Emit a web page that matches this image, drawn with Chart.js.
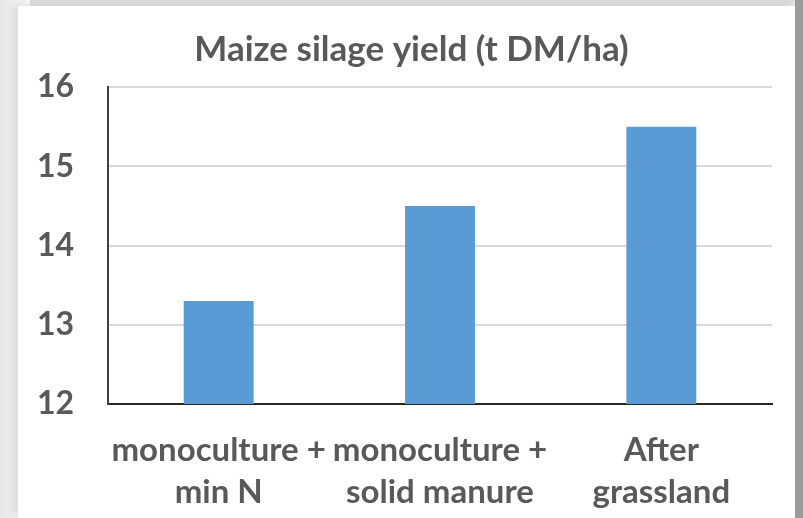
<!DOCTYPE html>
<html>
<head>
<meta charset="utf-8">
<script src="https://cdn.jsdelivr.net/npm/chart.js@4/dist/chart.umd.min.js"></script>
<style>
  html, body { margin: 0; padding: 0; width: 803px; height: 518px; overflow: hidden; background: #ffffff; }
  #topshade { position: absolute; left: 0; top: 0; width: 803px; height: 10px; background: linear-gradient(#dcdcdc, #f2f2f2); }
  #leftshade { position: absolute; left: 0; top: 0; width: 30px; height: 518px; background: linear-gradient(to right, #e6e6e6, #ffffff); }
  #card { position: absolute; left: 18px; top: 6px; width: 777px; height: 512px; background: #ffffff;
          box-shadow: -4px -2px 10px rgba(0,0,0,0.12); }
  #rightband { position: absolute; left: 795px; top: 0; width: 8px; height: 518px; background: #9b9b9b; }
</style>
</head>
<body>
<div id="topshade"></div>
<div id="leftshade"></div>
<div id="card"><canvas id="c" width="777" height="512"></canvas></div>
<div id="rightband"></div>
<script>
const titleText = 'Maize silage yield (t DM/ha)';
const categories = [
  ['monoculture +', 'min N'],
  ['monoculture +', 'solid manure'],
  ['After', 'grassland']
];
const yieldValues = [13.3, 14.5, 15.5];
const yMin = 12, yMax = 16, yStep = 1;

const textColor = '#595959';
new Chart(document.getElementById('c'), {
  type: 'bar',
  data: {
    labels: categories,
    datasets: [{
      data: yieldValues,
      backgroundColor: '#5B9BD5',
      borderWidth: 0,
      barPercentage: 0.316,
      categoryPercentage: 1.0
    }]
  },
  options: {
    responsive: false,
    animation: false,
    devicePixelRatio: 1,
    layout: { padding: { left: 33, right: 23, top: 0, bottom: 0 } },
    plugins: {
      legend: { display: false },
      tooltip: { enabled: false },
      title: {
        display: true,
        text: titleText,
        color: textColor,
        font: { family: 'Lato', weight: 'bold', size: 35, lineHeight: 1.2 },
        padding: { top: 23, bottom: 16 }
      }
    },
    scales: {
      x: {
        grid: { display: false, drawTicks: false },
        border: { display: true, color: '#262626', width: 2 },
        ticks: {
          color: textColor,
          font: { family: 'Lato', weight: 'bold', size: 33, lineHeight: 1.25 },
          padding: 26,
          maxRotation: 0,
          autoSkip: false
        },
        afterFit: (s) => { s.height = 114; }
      },
      y: {
        min: yMin, max: yMax,
        grid: { color: '#d9d9d9', lineWidth: 2, drawTicks: false },
        border: { display: true, color: '#404040', width: 2 },
        ticks: {
          stepSize: yStep,
          color: textColor,
          font: { family: 'Lato', weight: 'bold', size: 32 },
          mirror: true,
          crossAlign: 'far',
          padding: -71
        },
        afterFit: (s) => { s.width = 57; }
      }
    }
  }
});
</script>
</body>
</html>
